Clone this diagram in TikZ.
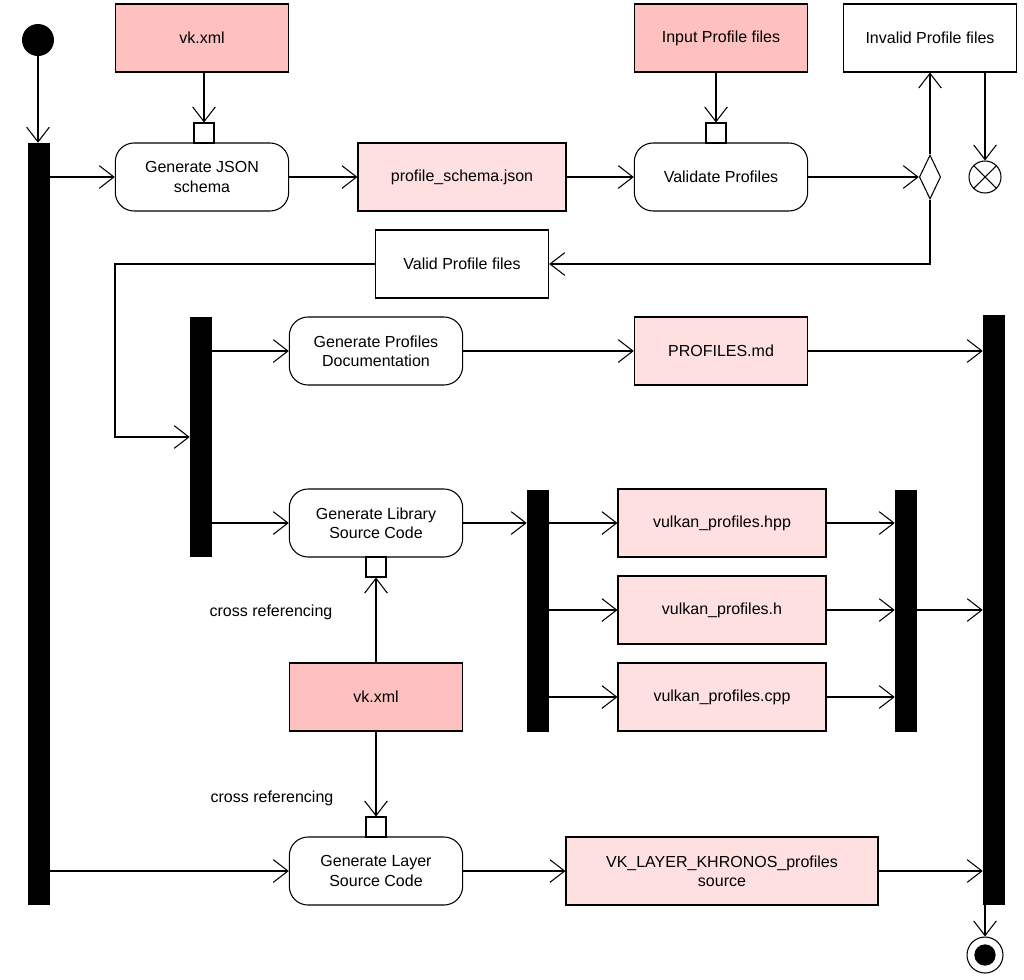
\documentclass[tikz,border=0pt]{standalone}
\usepackage{fontspec}
\setmainfont{Liberation Sans}
\usetikzlibrary{arrows.meta,shapes.geometric}
\definecolor{pinkdark}{HTML}{FFC0C0}
\definecolor{pinklight}{HTML}{FFE0E0}
\tikzset{
    action/.style={draw, thick, rounded corners=14pt, fill=white, minimum width=130pt, minimum height=51pt, align=center, inner sep=1pt},
    artefact/.style={draw, thick, minimum height=51pt, align=center, inner sep=1pt},
    bar/.style={fill=black, inner sep=0pt, minimum width=16.5pt},
    pinbox/.style={draw, thick, fill=white, minimum size=15pt, inner sep=0pt},
    flow/.style={thick, -{Straight Barb[length=11pt,width=17pt]}},
}
\begin{document}
\begin{tikzpicture}[x=0.75pt, y=-0.75pt, font=\fontsize{12}{14.5}\selectfont]
    \useasboundingbox (0,0) rectangle (1024,979);

    % Start and end nodes
    \node[circle, fill=black, minimum size=24pt, inner sep=0pt] (start) at (38,40) {};
    \node[circle, draw, thick, minimum size=27pt, inner sep=0pt] (final) at (985,955) {};
    \node[circle, fill=black, minimum size=16pt, inner sep=0pt] at (final) {};

    % Fork and join bars
    \node[bar, minimum height=571.5pt] (forkA) at (39,524) {};
    \node[bar, minimum height=180pt] (forkB) at (201,437) {};
    \node[bar, minimum height=181.5pt] (forkC) at (538,611) {};
    \node[bar, minimum height=181.5pt] (joinC) at (906,611) {};
    \node[bar, minimum height=442.5pt] (joinA) at (994,610) {};

    % Top row
    \node[artefact, fill=pinkdark, minimum width=130pt] (vkxmlA) at (202,38) {vk.xml};
    \node[action] (genjson) at (202,177) {Generate JSON\\schema};
    \node[pinbox] (pinjson) at (204,133) {};
    \node[artefact, fill=pinklight, minimum width=156pt] (schema) at (462,177) {profile\_schema.json};
    \node[artefact, fill=pinkdark, minimum width=130pt] (input) at (721,38) {Input Profile files};
    \node[action] (validate) at (721,177) {Validate Profiles};
    \node[pinbox] (pinvalid) at (716,133) {};
    \node[artefact, minimum width=130pt] (invalid) at (930,38) {Invalid Profile files};
    \node[diamond, draw, thick, fill=white, minimum width=16pt, minimum height=33pt, inner sep=0pt] (decide) at (930,177) {};
    \node[circle, draw, thick, minimum size=24pt, inner sep=0pt] (stopflow) at (985,177) {};
    \draw[thick] (stopflow.north west) -- (stopflow.south east) (stopflow.north east) -- (stopflow.south west);
    \node[artefact, minimum width=130pt] (valid) at (462,264) {Valid Profile files};

    % Documentation branch
    \node[action] (gendoc) at (376,351) {Generate Profiles\\Documentation};
    \node[artefact, fill=pinklight, minimum width=130pt] (profmd) at (721,351) {PROFILES.md};

    % Library branch
    \node[action] (genlib) at (376,523) {Generate Library\\Source Code};
    \node[pinbox] (pinlib) at (376,567) {};
    \foreach \name/\txt/\y in {hpp/vulkan\_profiles.hpp/523, h/vulkan\_profiles.h/610, cpp/vulkan\_profiles.cpp/697} {
        \node[artefact, fill=pinklight, minimum width=156pt] (\name) at (722,\y) {\txt};
        \draw[flow] (forkC.east |- \name) -- (\name);
        \draw[flow] (\name) -- (joinC.west |- \name);
    }
    \node[artefact, fill=pinkdark, minimum width=130pt] (vkxmlB) at (376,697) {vk.xml};
    \node (xrefA) at (271,612) {cross referencing};
    \node (xrefB) at (272,798) {cross referencing};

    % Layer branch
    \node[action] (genlayer) at (376,871) {Generate Layer\\Source Code};
    \node[pinbox] (pinlayer) at (376,827) {};
    \node[artefact, fill=pinklight, minimum width=234pt] (layer) at (722,871) {VK\_LAYER\_KHRONOS\_profiles\\source};

    % Connectors
    \draw[flow] (start) -- (forkA.north -| start);
    \draw[flow] (forkA.east |- genjson) -- (genjson);
    \draw[flow] (vkxmlA.south -| pinjson) -- (pinjson);
    \draw[flow] (genjson) -- (schema);
    \draw[flow] (schema) -- (validate);
    \draw[flow] (input.south -| pinvalid) -- (pinvalid);
    \draw[flow] (validate) -- (decide);
    \draw[flow] (decide) -- (invalid.south -| decide);
    \draw[flow] (invalid.south -| stopflow) -- (stopflow);
    \draw[flow] (decide) |- (valid);
    \draw[flow] (valid.west) -- (115,264) -- (115,437) -- (forkB.west |- 0,437);
    \draw[flow] (forkB.east |- gendoc) -- (gendoc);
    \draw[flow] (forkB.east |- genlib) -- (genlib);
    \draw[flow] (gendoc) -- (profmd);
    \draw[flow] (profmd) -- (joinA.west |- profmd);
    \draw[flow] (genlib) -- (forkC.west |- genlib);
    \draw[flow] (joinC.east |- h) -- (joinA.west |- h);
    \draw[flow] (vkxmlB) -- (pinlib);
    \draw[flow] (vkxmlB) -- (pinlayer);
    \draw[flow] (forkA.east |- genlayer) -- (genlayer);
    \draw[flow] (genlayer) -- (layer);
    \draw[flow] (layer) -- (joinA.west |- layer);
    \draw[flow] (joinA.south -| final) -- (final);

\end{tikzpicture}
\end{document}
